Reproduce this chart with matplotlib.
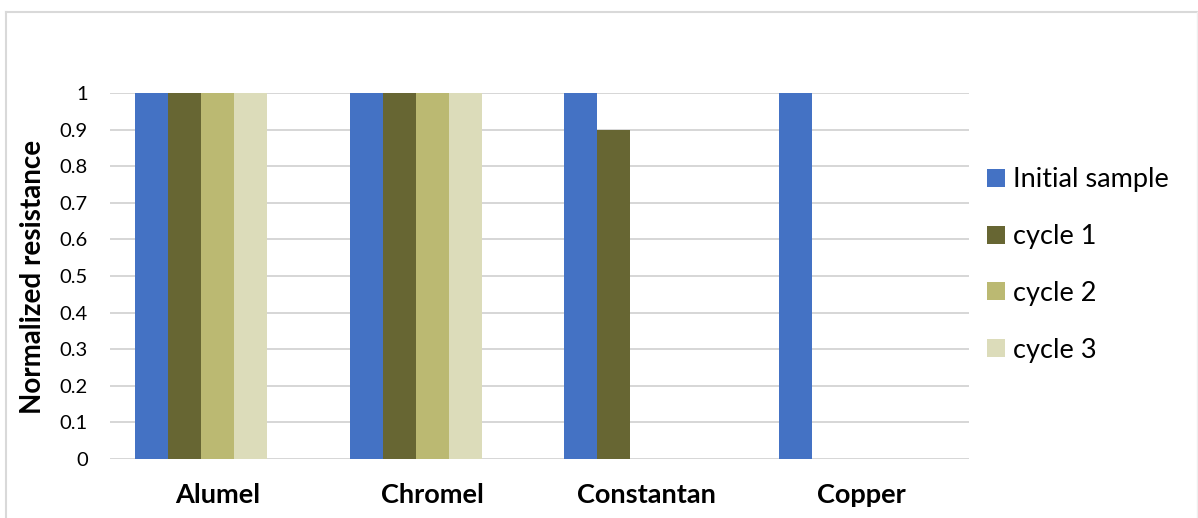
import numpy as np
import matplotlib.pyplot as plt
from matplotlib.patches import Patch
from matplotlib.lines import Line2D

plt.rcParams['font.family'] = ['Lato', 'DejaVu Sans']

# data
materials = ['Alumel', 'Chromel', 'Constantan', 'Copper']
series_names = ['Initial sample', 'cycle 1', 'cycle 2', 'cycle 3']
initial = [1, 1, 1, 1]
cycle1 = [1, 1, 0.9, 0]
cycle2 = [1, 1, 0, 0]
cycle3 = [1, 1, 0, 0]
colors = ['#4472C4', '#676633', '#BBB972', '#DCDCBA']

W, H = 1198, 518
fig = plt.figure(figsize=(W / 100, H / 100), dpi=100)

# plot area in pixels: x 110..969, y 93..459
ax = fig.add_axes([110 / W, (H - 459) / H, (969 - 110) / W, (459 - 93) / H])

x = np.arange(len(materials))
bw = 0.1537  # 5 slots per group (last one is empty in the original)
values = [initial, cycle1, cycle2, cycle3]
for j, (vals, c) in enumerate(zip(values, colors)):
    ax.bar(x + (j - 2) * bw, vals, width=bw, color=c, linewidth=0, zorder=3)

ax.set_xlim(-0.5, len(materials) - 0.5)
ax.set_ylim(0, 1)
yt = np.round(np.arange(0, 1.01, 0.1), 1)
ax.set_yticks(yt)
ax.set_yticklabels(['0' if v == 0 else ('1' if v == 1 else f'{v:g}') for v in yt])
ax.grid(axis='y', color='#D6D6D6', linewidth=1.4, zorder=0)
ax.set_axisbelow(True)
for s in ax.spines.values():
    s.set_visible(False)
ax.tick_params(axis='y', length=0, pad=16, labelsize=14.5, labelcolor='black')
ax.set_xticks(x)
ax.set_xticklabels(materials, fontsize=19.5, fontweight='bold')
ax.tick_params(axis='x', length=0, pad=17)

fig.text(33 / W, (H - 277) / H, 'Normalized resistance', rotation=90,
         ha='center', va='center', fontsize=20, fontweight='bold')

handles = [Patch(facecolor=c, edgecolor='none') for c in colors]
fig.legend(handles, series_names, loc='center left',
           bbox_to_anchor=(987 / W, (H - 265) / H), frameon=False,
           fontsize=19.5, handlelength=0.65, handleheight=0.65,
           handletextpad=0.3, labelspacing=1.17, borderpad=0, borderaxespad=0)

# light chart border
bc = '#D9D9D9'
fig.add_artist(Line2D([6 / W, 6 / W], [0, (H - 12) / H], color=bc, lw=1.5, transform=fig.transFigure))
fig.add_artist(Line2D([6 / W, 1197 / W], [(H - 12) / H, (H - 12) / H], color=bc, lw=1.5, transform=fig.transFigure))
fig.add_artist(Line2D([1197 / W, 1197 / W], [0, (H - 12) / H], color='#EEEEEE', lw=1, transform=fig.transFigure))

fig.savefig('out.png', dpi=100)
